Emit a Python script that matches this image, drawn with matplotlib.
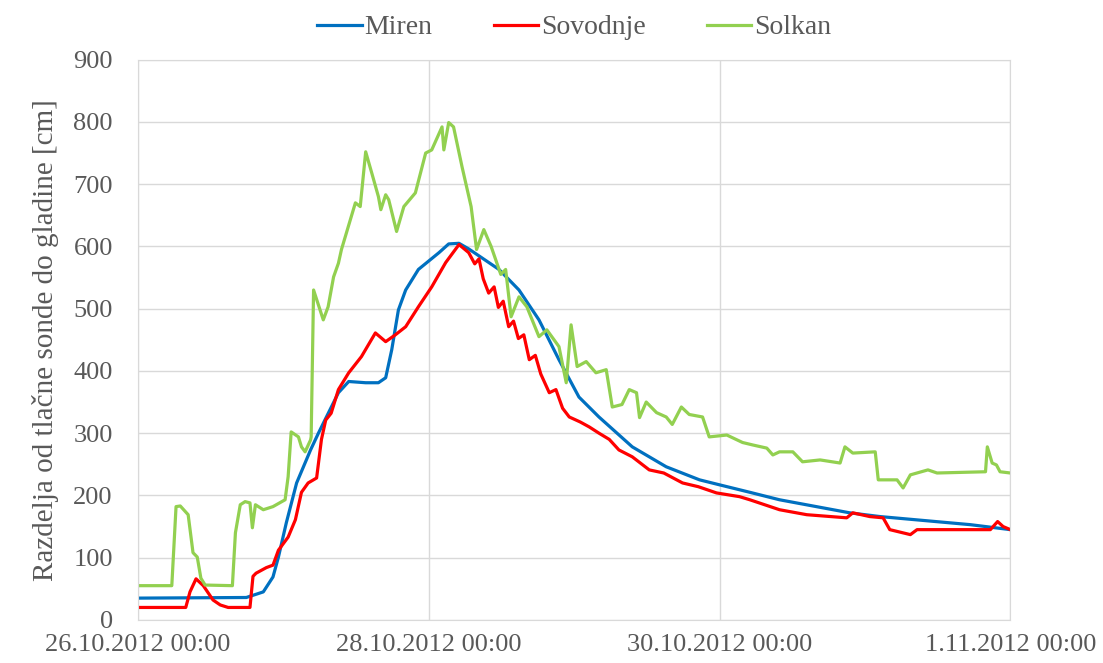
import numpy as np
import pandas as pd
import matplotlib
matplotlib.use("Agg")
import matplotlib.pyplot as plt
import matplotlib.dates as mdates

# hours since 26.10.2012 00:00 and level [cm]
miren_h = [0, 17.9, 20.7, 22.3, 23.2, 24.5, 26.2, 28.5, 29.8, 33.1, 34.8, 37.6,
           39.7, 40.9, 41.9, 43.0, 44.2, 46.3, 49.7, 51.3, 53.0, 54.6, 59.6, 62.9,
           66.2, 69.5, 72.8, 76.1, 81.6, 87.2, 92.7, 96.0, 101.0, 105.9, 117.5,
           122.5, 137.4, 144]
miren_v = [35, 36, 45, 69, 101, 156, 220, 273, 300, 365, 383, 381,
           381, 389, 434, 498, 530, 563, 590, 604, 605, 596, 563, 530,
           482, 418, 358, 326, 278, 246, 225, 217, 205, 193, 172,
           166, 153, 145]

sovodnje_h = [0, 7.9, 8.6, 9.6, 10.8, 12.4, 13.6, 14.9, 18.5, 19.0, 19.5, 21.2,
              22.3, 23.2, 24.8, 26.0, 27.0, 28.1, 29.5, 30.3, 31.0, 31.9, 33.1,
              34.8, 36.9, 39.2, 40.9, 42.5, 44.2, 46.3, 48.5, 50.8, 53.0, 54.6,
              55.6, 56.3, 57.0, 57.9, 58.8, 59.5, 60.3, 61.2, 62.0, 62.8, 63.7,
              64.6, 65.6, 66.5, 67.9, 69.0, 70.1, 71.2, 73.0, 74.5, 76.1, 77.8,
              79.4, 81.6, 84.4, 86.8, 89.9, 92.5, 95.5, 99.3, 101.0, 105.9, 110.4,
              117.0, 118.0, 120.8, 123.0, 124.1, 127.5, 128.6, 140.7, 141.9,
              142.8, 144]
sovodnje_v = [20, 20, 45, 66, 55, 32, 24, 20, 20, 70, 75, 84,
              88, 112, 133, 161, 205, 220, 228, 290, 321, 332, 370,
              397, 423, 461, 447, 458, 471, 503, 535, 574, 603, 590,
              572, 580, 548, 525, 535, 502, 512, 471, 480, 452, 458,
              418, 425, 395, 365, 370, 340, 326, 318, 310, 300, 290,
              273, 262, 241, 236, 220, 214, 204, 198, 193, 177, 169,
              164, 172, 166, 164, 145, 137, 145, 145, 158,
              150, 145]

solkan_h = [0, 5.6, 6.3, 7.0, 8.3, 9.1, 9.8, 10.4, 11.1, 15.6, 16.1, 16.9,
            17.7, 18.5, 18.9, 19.4, 20.7, 22.3, 24.3, 24.8, 25.3, 26.5, 27.0,
            27.6, 28.5, 28.6, 29.0, 30.6, 31.4, 32.3, 33.1, 33.6, 35.9, 36.7,
            37.6, 38.6, 39.7, 40.1, 40.9, 41.4, 42.7, 43.9, 45.8, 47.5, 48.5,
            50.2, 50.5, 51.3, 52.1, 53.5, 55.0, 55.9, 57.1, 58.3, 59.9, 60.7,
            61.6, 62.9, 64.2, 66.2, 67.5, 69.5, 70.7, 71.5, 72.5, 74.0, 75.6,
            77.3, 78.3, 79.9, 81.1, 82.3, 82.8, 83.9, 85.6, 87.2, 88.2, 89.7,
            91.0, 93.2, 94.3, 97.2, 99.8, 101.5, 103.8, 104.8, 105.9, 108.1,
            109.7, 112.6, 115.9, 116.7, 118.0, 121.7, 122.2, 125.3, 126.3,
            127.5, 130.4, 131.9, 139.9, 140.2, 141.0, 141.7, 142.3, 144]
solkan_v = [55, 55, 182, 183, 169, 108, 101, 67, 56, 55, 140, 185,
            190, 188, 148, 185, 177, 182, 193, 230, 302, 294, 278,
            270, 289, 294, 530, 482, 503, 551, 573, 595, 670, 664,
            752, 718, 680, 659, 683, 675, 624, 664, 686, 750, 755,
            792, 755, 799, 792, 728, 664, 595, 627, 600, 555, 563,
            487, 519, 503, 455, 466, 439, 381, 474, 407, 415, 397,
            402, 342, 346, 370, 365, 325, 350, 333, 326, 314, 342,
            330, 326, 294, 297, 285, 281, 276, 265, 270, 270,
            254, 257, 252, 278, 268, 270, 225, 225, 212,
            233, 241, 236, 238, 278, 252, 249, 238, 236]

start = pd.Timestamp("2012-10-26 00:00")
def to_time(hours):
    return start + pd.to_timedelta(np.array(hours), unit="h")

plt.rcParams['font.family'] = ['Liberation Serif', 'DejaVu Serif']
txt = '#595959'
grid = '#d9d9d9'

fig = plt.figure(figsize=(11.03, 6.63), dpi=100)
ax = fig.add_axes([0.125, 0.065, 0.791, 0.845])

ax.plot(to_time(miren_h), miren_v, color='#0070c0', lw=2.3, label='Miren')
ax.plot(to_time(sovodnje_h), sovodnje_v, color='#ff0000', lw=2.3, label='Sovodnje')
ax.plot(to_time(solkan_h), solkan_v, color='#92d050', lw=2.3, label='Solkan')

ax.set_xlim(start, start + pd.Timedelta(days=6))
ax.set_ylim(0, 900)
ax.set_yticks(range(0, 901, 100))
ax.set_xticks([start + pd.Timedelta(days=d) for d in (0, 2, 4, 6)])
ax.xaxis.set_major_formatter(mdates.DateFormatter('%-d.%m.%Y %H:%M'))
ax.grid(True, color=grid, lw=1.0)
ax.set_axisbelow(True)
for s in ax.spines.values():
    s.set_color(grid)
ax.tick_params(axis='x', length=0, labelsize=19, colors=txt, pad=10)
ax.tick_params(axis='y', length=0, labelsize=19, colors=txt, pad=18)
ax.set_ylabel('Razdelja od tlačne sonde do gladine [cm]', fontsize=21, color=txt, labelpad=10)

ax.legend(loc='lower center', bbox_to_anchor=(0.5, 1.0), ncol=3, frameon=False,
          fontsize=20, handlelength=1.6, handletextpad=0.1, columnspacing=2.2,
          labelcolor=txt, borderaxespad=0.3)

fig.savefig('out.png', dpi=100)
